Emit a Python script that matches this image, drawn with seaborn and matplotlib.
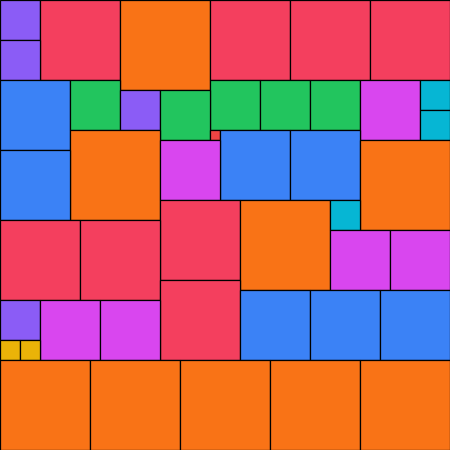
import matplotlib
matplotlib.use("Agg")
import matplotlib.pyplot as plt
import numpy as np
import pandas as pd
import seaborn as sns

# Partridge packing, n = 9: one 1x1, two 2x2 ... nine 9x9 squares tile a 45x45 square
side = 45
sizes = [1, 2, 3, 4, 5, 6, 7, 8, 9]
colors = ["#ef4444", "#eab308", "#06b6d4", "#8b5cf6", "#22c55e",
          "#d946ef", "#3b82f6", "#f43f5e", "#f97316"]

# order in which squares fill the first empty cell (row by row, left to right)
placement_order = [4, 8, 9, 8, 8, 8, 4, 7, 5, 5, 5, 5, 6, 3, 4, 5, 3, 9, 1, 7,
                   7, 6, 9, 7, 8, 9, 3, 8, 8, 6, 6, 8, 7, 7, 7, 4, 6, 6, 2, 2,
                   9, 9, 9, 9, 9]


def layout(order, n):
    grid = np.zeros((n, n), dtype=bool)
    rows = []
    for s in order:
        empty = np.argwhere(~grid)
        y, x = empty[0]
        grid[y:y + s, x:x + s] = True
        rows.append({"x": x, "y": y, "size": s})
    return pd.DataFrame(rows)


df = layout(placement_order, side)
palette = dict(zip(sizes, colors))

sns.set_theme(style="white")
fig = plt.figure(figsize=(4.5, 4.5), dpi=100)
ax = fig.add_axes([0, 0, 1, 1])
ax.bar(df["x"], df["size"], width=df["size"], bottom=df["y"], align="edge",
       color=df["size"].map(palette), edgecolor="black", linewidth=0.9)
ax.set_xlim(0, side)
ax.set_ylim(side, 0)
ax.axis("off")
fig.savefig("out.png", dpi=100)
